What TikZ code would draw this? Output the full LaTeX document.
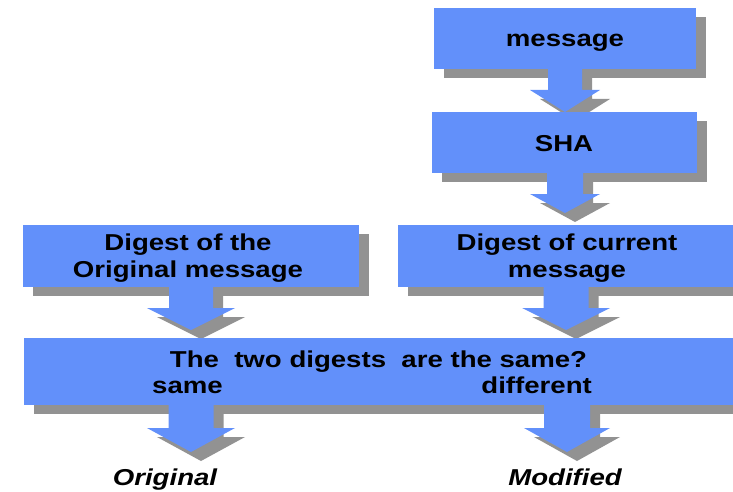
\documentclass[tikz,border=0pt]{standalone}
\usepackage{fontspec}
\setmainfont{Liberation Sans}[FakeStretch=1.2]
\usetikzlibrary{calc}
\pgfdeclarelayer{shadowlayer}
\pgfsetlayers{shadowlayer,main}
\definecolor{boxblue}{RGB}{98,144,250}
\definecolor{shadegray}{RGB}{146,146,146}

% Block arrow pointing down from the bottom edge of node #1 to coordinate #2.
% #3 shaft half width, #4 head half width, #5 head length, #6 fill style
\newcommand{\blkarrow}[6]{%
  \fill[#6] let \p1=(#2 |- #1.south), \p2=(#2) in
    (\x1-#3pt,\y1) -- (\x1+#3pt,\y1) -- (\x1+#3pt,\y2+#5pt)
    -- (\x1+#4pt,\y2+#5pt) -- (\x2,\y2) -- (\x1-#4pt,\y2+#5pt)
    -- (\x1-#3pt,\y2+#5pt) -- cycle;}

\tikzset{
  bluebox/.style={rectangle, fill=boxblue, inner sep=0pt},
  bluefill/.style={fill=boxblue},
  shadowfill/.style={fill=shadegray},
  lbl/.style={inner sep=0pt, font=\bfseries\fontsize{23}{26.3}\selectfont},
  outlbl/.style={inner sep=0pt, font=\bfseries\itshape\fontsize{23}{26.3}\selectfont},
}

\begin{document}
\begin{tikzpicture}[x=1pt, y=-1pt]
  \useasboundingbox (0,0) rectangle (733,492);

  % boxes
  \node[bluebox, minimum width=262pt, minimum height=61pt] (msg) at (565,38.5) {};
  \node[bluebox, minimum width=265pt, minimum height=61pt] (sha) at (564.5,142.5) {};
  \node[bluebox, minimum width=336pt, minimum height=62pt] (dl) at (191,256) {};
  \node[bluebox, minimum width=342pt, minimum height=62pt] (dr) at (569,256) {};
  \node[bluebox, minimum width=716pt, minimum height=67pt] (big) at (382,371.5) {};

  % arrow tips
  \coordinate (t1) at (565,112);
  \coordinate (t2) at (565,213);
  \coordinate (t3) at (191,330);
  \coordinate (t4) at (566,330);
  \coordinate (t5) at (191,452);
  \coordinate (t6) at (567,452);

  % drop shadows behind everything
  \begin{pgfonlayer}{shadowlayer}
    \begin{scope}[transform canvas={shift={(10pt,-9pt)}}]
      \foreach \n in {msg,sha,dl,dr,big}
        \fill[shadowfill] (\n.south west) rectangle (\n.north east);
      \blkarrow{msg}{t1}{17}{35}{22}{shadowfill}
      \blkarrow{sha}{t2}{18}{35}{19}{shadowfill}
      \blkarrow{dl}{t3}{22}{44}{22}{shadowfill}
      \blkarrow{dr}{t4}{22.5}{44}{22}{shadowfill}
      \blkarrow{big}{t5}{22.5}{44}{24}{shadowfill}
      \blkarrow{big}{t6}{23}{43}{24}{shadowfill}
    \end{scope}
  \end{pgfonlayer}

  % block arrows
  \blkarrow{msg}{t1}{17}{35}{22}{bluefill}
  \blkarrow{sha}{t2}{18}{35}{19}{bluefill}
  \blkarrow{dl}{t3}{22}{44}{22}{bluefill}
  \blkarrow{dr}{t4}{22.5}{44}{22}{bluefill}
  \blkarrow{big}{t5}{22.5}{44}{24}{bluefill}
  \blkarrow{big}{t6}{23}{43}{24}{bluefill}

  % labels
  \node[lbl, anchor=base] (lmsg) at (565,46.7) {message};
  \node[lbl, anchor=base] (lsha) at (564,151.7) {SHA};
  \node[lbl, align=center] (ldl) at (188,258) {Digest of the\\Original message};
  \node[lbl, align=center] (ldr) at (567,258) {Digest of current\\message};
  \node[lbl, anchor=base] (lq) at (378.5,367) {The\ \ two digests\ \ are the same?};
  \node[lbl, anchor=base west] (lsame) at (152,393) {same};
  \node[lbl, anchor=base east] (ldiff) at (592,393) {different};
  \node[outlbl, anchor=base] (lorig) at (165,485) {Original};
  \node[outlbl, anchor=base] (lmod) at (565,485) {Modified};
\end{tikzpicture}
\end{document}
